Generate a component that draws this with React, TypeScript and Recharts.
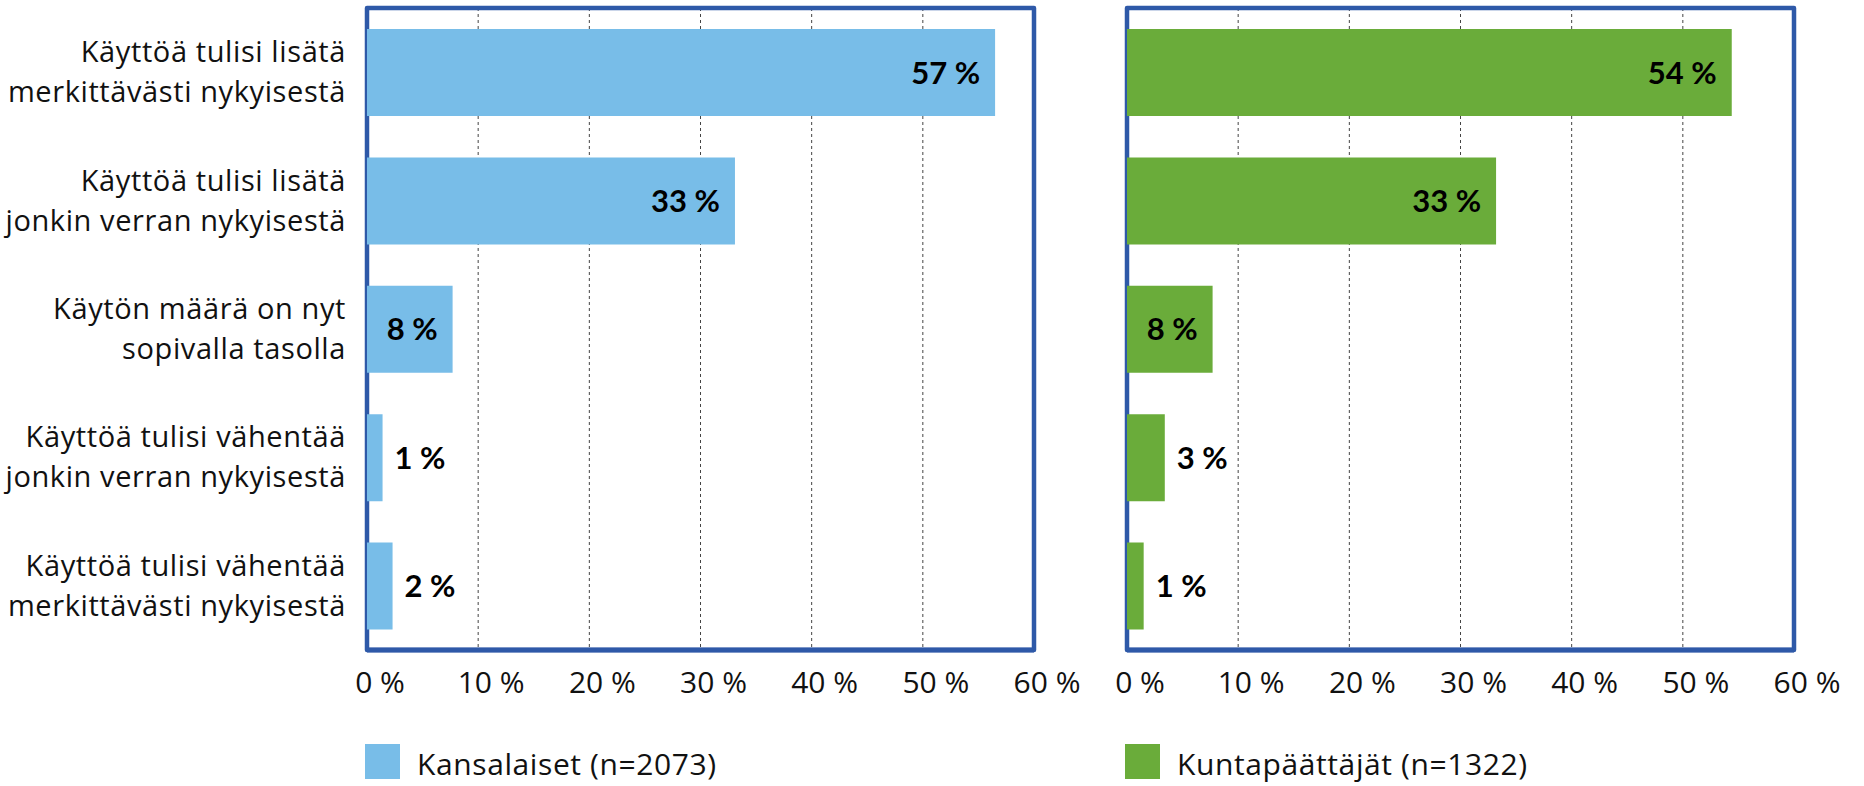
import React from "react";
import { BarChart, Bar, XAxis, YAxis, CartesianGrid, ReferenceArea, LabelList } from "recharts";

const categories = [
  "Käyttöä tulisi lisätä\nmerkittävästi nykyisestä",
  "Käyttöä tulisi lisätä\njonkin verran nykyisestä",
  "Käytön määrä on nyt\nsopivalla tasolla",
  "Käyttöä tulisi vähentää\njonkin verran nykyisestä",
  "Käyttöä tulisi vähentää\nmerkittävästi nykyisestä",
];

const kansalaisetValues = [56.5, 33.1, 7.7, 1.4, 2.3];
const kansalaisetLabels = ["57 %", "33 %", "8 %", "1 %", "2 %"];

const paattajatValues = [54.4, 33.2, 7.7, 3.4, 1.5];
const paattajatLabels = ["54 %", "33 %", "8 %", "3 %", "1 %"];

const xTicks = [0, 10, 20, 30, 40, 50, 60];

const BLUE = "#78BDE8";
const GREEN = "#6AAC3A";
const FRAME = "#2E59A8";
const FONT = "'Open Sans', Lato, sans-serif";
const BOLD_FONT = "Lato, 'Open Sans', sans-serif";

const buildRows = (values: number[], labels: string[]) =>
  categories.map((c, i) => ({ category: c, value: values[i], label: labels[i] }));

const CategoryTick = (props: any) => {
  const { x, y, payload } = props;
  const lines = String(payload.value).split("\n");
  return (
    <text x={x - 21} textAnchor="end" fontSize={29} letterSpacing={0.6} fontFamily={FONT} fill="#111">
      {lines.map((l, i) => (
        <tspan key={i} x={x - 21} y={y - 10 + i * 40}>
          {l}
        </tspan>
      ))}
    </text>
  );
};

const PercentTick = (props: any) => {
  const { x, y, payload } = props;
  return (
    <text x={x + 13} y={y + 43} textAnchor="middle" fontSize={30} fontFamily={FONT} fill="#111">
      {`${payload.value} %`}
    </text>
  );
};

const ValueLabel = (props: any) => {
  const { x, y, width, height, value } = props;
  const cy = y + height / 2 + 11;
  const inside = width > 40;
  return (
    <text
      x={inside ? x + width - 15 : x + width + 12}
      y={cy}
      textAnchor={inside ? "end" : "start"}
      fontSize={31}
      fontWeight={700}
      fontFamily={BOLD_FONT}
      fill="#000"
    >
      {value}
    </text>
  );
};

function Panel({ rows, color, showCategories, width, margin }: any) {
  return (
    <BarChart width={width} height={786} data={rows} layout="vertical" margin={margin} barSize={87}>
      <CartesianGrid vertical horizontal={false} stroke="#444" strokeDasharray="3 3" strokeWidth={1} />
      <XAxis
        type="number"
        domain={[0, 60]}
        ticks={xTicks}
        interval={0}
        tickLine={false}
        tickSize={0}
        tickMargin={0}
        height={60}
        axisLine={{ stroke: FRAME, strokeWidth: 5 }}
        tick={<PercentTick />}
      />
      <YAxis
        type="category"
        dataKey="category"
        hide={!showCategories}
        width={showCategories ? 367 : 0}
        axisLine={false}
        tickLine={false}
        tickSize={0}
        tickMargin={0}
        interval={0}
        tick={<CategoryTick />}
      />
      <Bar dataKey="value" fill={color} isAnimationActive={false}>
        <LabelList dataKey="label" content={<ValueLabel />} />
      </Bar>
      <ReferenceArea x1={0} x2={60} fill="none" stroke={FRAME} strokeWidth={4.5} strokeLinejoin="round" ifOverflow="visible" />
    </BarChart>
  );
}

const LegendItem = ({ left, color, text }: any) => (
  <div style={{ position: "absolute", left, top: 744, display: "flex", alignItems: "flex-start" }}>
    <div style={{ width: 35, height: 35, background: color }} />
    <div style={{ marginLeft: 17, marginTop: 2, fontFamily: FONT, fontSize: 30, letterSpacing: 0.6, color: "#111", lineHeight: "36px", whiteSpace: "nowrap" }}>{text}</div>
  </div>
);

export default function App() {
  return (
    <div style={{ position: "absolute", left: 0, top: 0, width: 1864, height: 786, background: "#fff", overflow: "hidden" }}>
      <div style={{ position: "absolute", left: 0, top: 0 }}>
        <Panel
          rows={buildRows(kansalaisetValues, kansalaisetLabels)}
          color={BLUE}
          showCategories
          width={1085}
          margin={{ top: 8, right: 51, left: 0, bottom: 76 }}
        />
      </div>
      <div style={{ position: "absolute", left: 1085, top: 0 }}>
        <Panel
          rows={buildRows(paattajatValues, paattajatLabels)}
          color={GREEN}
          showCategories={false}
          width={779}
          margin={{ top: 8, right: 70, left: 42, bottom: 76 }}
        />
      </div>
      <LegendItem left={365} color={BLUE} text="Kansalaiset (n=2073)" />
      <LegendItem left={1125} color={GREEN} text="Kuntapäättäjät (n=1322)" />
    </div>
  );
}
